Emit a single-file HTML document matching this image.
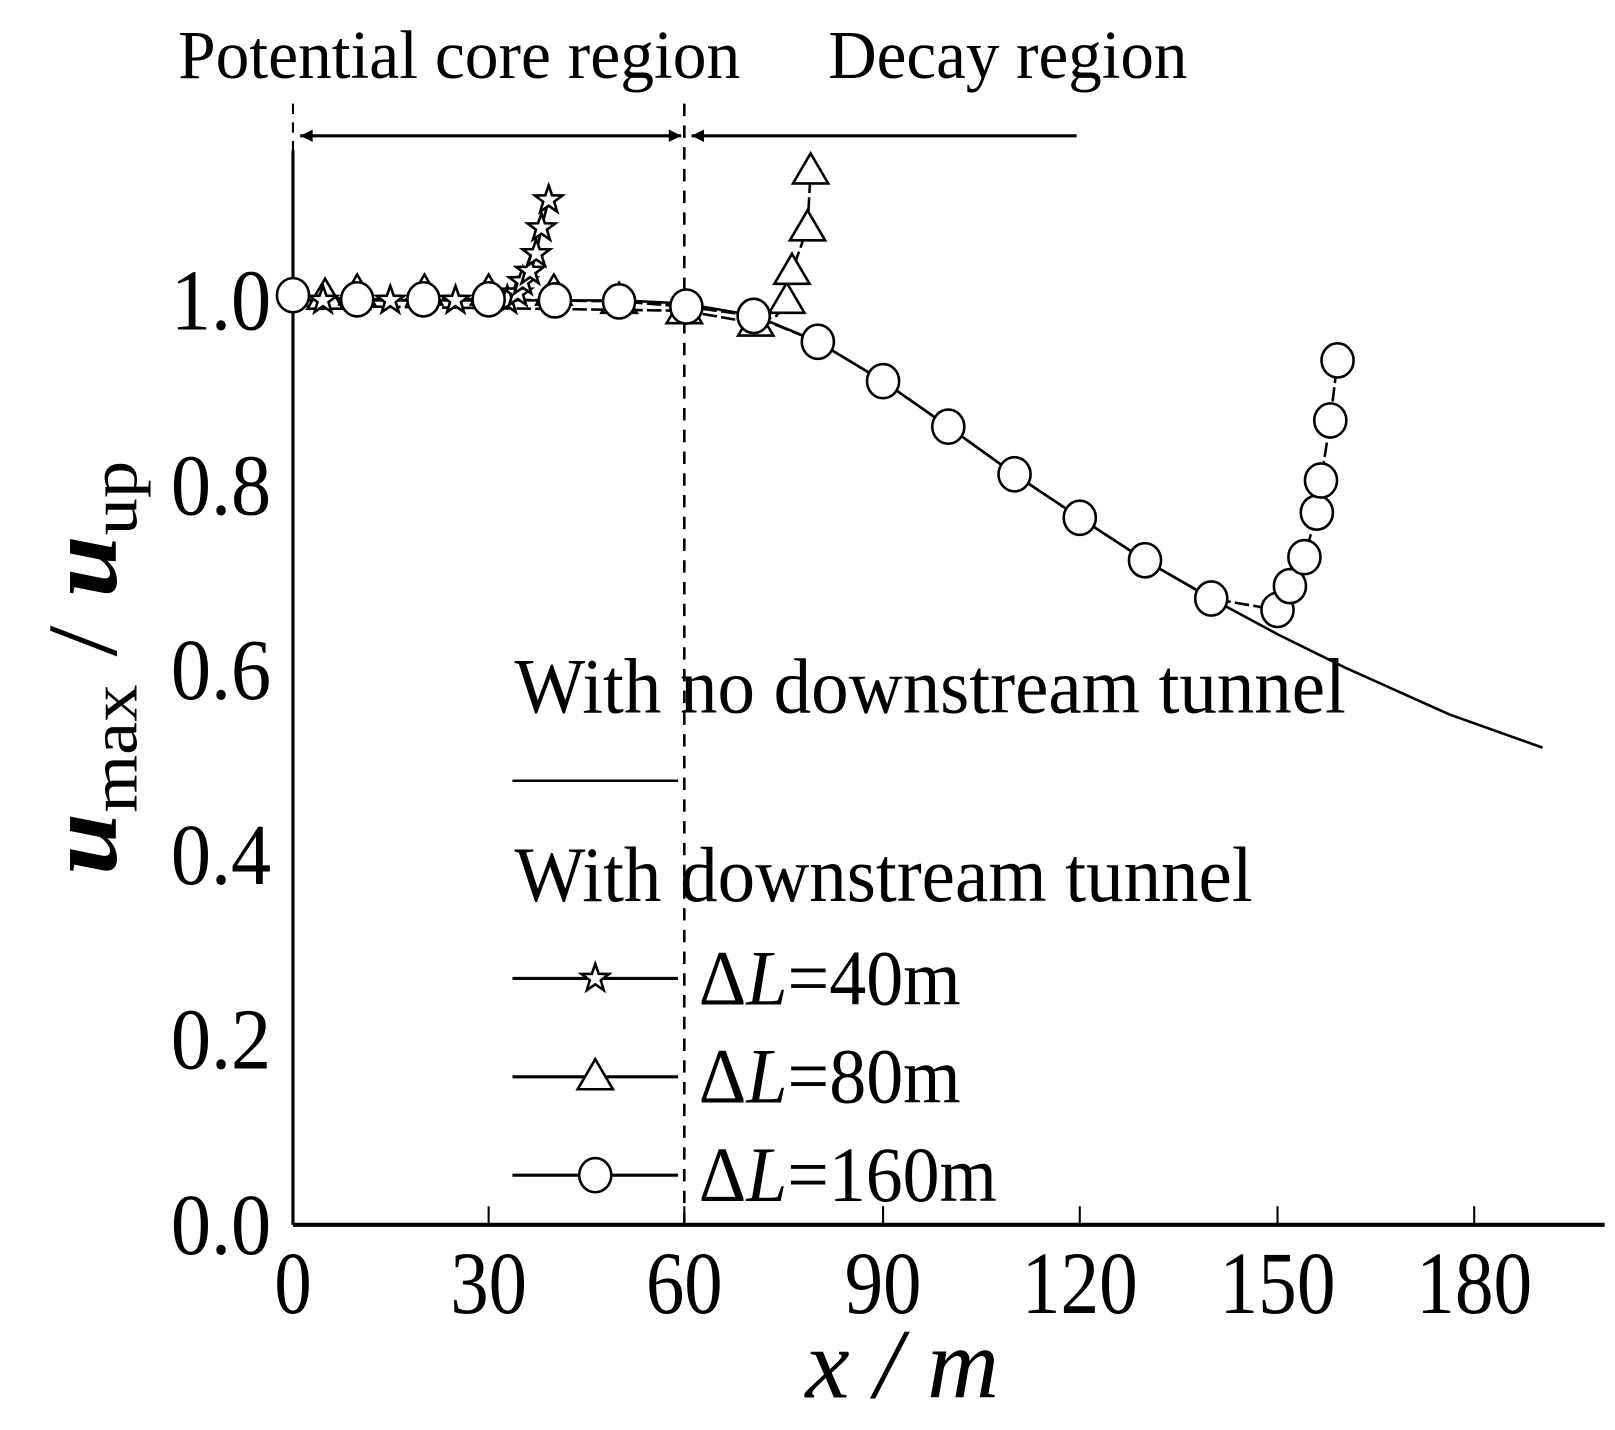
<!DOCTYPE html>
<html><head><style>body{margin:0;background:#fff}svg{display:block}</style></head><body>
<svg width="1615" height="1430" viewBox="0 0 1560 1381" xmlns="http://www.w3.org/2000/svg" font-family="'Liberation Serif',serif">
<defs>
<marker id="ah" viewBox="0 0 10 10" refX="10" refY="5" markerWidth="6" markerHeight="4" orient="auto-start-reverse"><path d="M0,0L10,5L0,10z" fill="#000"/></marker>
<g id="st"><polygon points="0,-14 3.3,-4.5 13.3,-4.3 5.3,1.7 8.2,11.3 0,5.6 -8.2,11.3 -5.3,1.7 -13.3,-4.3 -3.3,-4.5" fill="#fff" stroke="#000" stroke-width="2.5"/></g>
<g id="tr"><polygon points="0,-17 17,12 -17,12" fill="#fff" stroke="#000" stroke-width="2.5"/></g>
<g id="ci"><ellipse rx="15.5" ry="16.5" fill="#fff" stroke="#000" stroke-width="2.5"/></g>
</defs>
<text x="172" y="75" font-size="66" textLength="543" lengthAdjust="spacingAndGlyphs">Potential core region</text>
<text x="800" y="75" font-size="66" textLength="347" lengthAdjust="spacingAndGlyphs">Decay region</text>
<line x1="290" y1="131" x2="658" y2="131" stroke="#000" stroke-width="3" marker-start="url(#ah)" marker-end="url(#ah)"/>
<line x1="1040" y1="131" x2="668" y2="131" stroke="#000" stroke-width="3" marker-end="url(#ah)"/>
<line x1="283" y1="100" x2="283" y2="1183" stroke="#000" stroke-width="2" stroke-dasharray="10,8"/>
<line x1="661" y1="100" x2="661" y2="1183" stroke="#000" stroke-width="2.5" stroke-dasharray="12,9"/>
<line x1="283" y1="145" x2="283" y2="1183" stroke="#000" stroke-width="3"/>
<line x1="283" y1="1183" x2="1550" y2="1183" stroke="#000" stroke-width="4"/>
<g stroke="#000" stroke-width="2">
<line x1="472" y1="1183" x2="472" y2="1165"/><line x1="661" y1="1183" x2="661" y2="1165"/><line x1="853" y1="1183" x2="853" y2="1165"/><line x1="1043" y1="1183" x2="1043" y2="1165"/><line x1="1234" y1="1183" x2="1234" y2="1165"/><line x1="1424" y1="1183" x2="1424" y2="1165"/>
</g>
<g font-size="84" text-anchor="end" lengthAdjust="spacingAndGlyphs">
<text x="262" y="1211" textLength="97" lengthAdjust="spacingAndGlyphs">0.0</text><text x="262" y="1032" textLength="97" lengthAdjust="spacingAndGlyphs">0.2</text><text x="262" y="854" textLength="97" lengthAdjust="spacingAndGlyphs">0.4</text><text x="262" y="675" textLength="97" lengthAdjust="spacingAndGlyphs">0.6</text><text x="262" y="497" textLength="97" lengthAdjust="spacingAndGlyphs">0.8</text><text x="262" y="318" textLength="97" lengthAdjust="spacingAndGlyphs">1.0</text>
</g>
<g font-size="86" text-anchor="middle">
<text x="283" y="1268" textLength="36" lengthAdjust="spacingAndGlyphs">0</text><text x="472" y="1268" textLength="74" lengthAdjust="spacingAndGlyphs">30</text><text x="661" y="1268" textLength="74" lengthAdjust="spacingAndGlyphs">60</text><text x="853" y="1268" textLength="74" lengthAdjust="spacingAndGlyphs">90</text><text x="1043" y="1268" textLength="112" lengthAdjust="spacingAndGlyphs">120</text><text x="1234" y="1268" textLength="112" lengthAdjust="spacingAndGlyphs">150</text><text x="1424" y="1268" textLength="112" lengthAdjust="spacingAndGlyphs">180</text>
</g>
<text x="778" y="1350" font-size="96" font-style="italic" textLength="187" lengthAdjust="spacingAndGlyphs">x / m</text>
<text transform="translate(112,645) rotate(-90)" font-size="96" text-anchor="middle" textLength="400" lengthAdjust="spacingAndGlyphs"><tspan font-style="italic" font-weight="bold">u</tspan><tspan font-size="64" dy="20">max</tspan><tspan dy="-20"> / </tspan><tspan font-style="italic" font-weight="bold">u</tspan><tspan font-size="64" dy="20">up</tspan></text>
<g fill="none" stroke="#000" stroke-width="2.5">
<polyline points="283,290 600,290 661,293 730,305 790,330 853,368 916,412 980,458 1043,500 1106,541 1170,578 1235,613 1300,645 1400,690 1490,722"/>
<polyline points="283,290 490,290 500,285 505,275 512,265 518,245 523,220 530,193"/>
<polyline points="283,295 661,300 730,312 750,305 760,290 765,262 780,220 783,165" stroke-dasharray="14,4"/>
<polyline points="283,285 345,289 472,289 598,291 663,296 728,305 790,330 853,368 916,412 980,458 1043,500 1106,541 1170,578 1234,589 1246,566 1260,538 1272,495 1276,464 1285,406 1292,348" stroke-dasharray="14,4"/>
</g>
<g>
<use href="#tr" x="314" y="286"/><use href="#tr" x="345" y="282"/><use href="#tr" x="410" y="282"/><use href="#tr" x="472" y="282"/><use href="#tr" x="535" y="282"/><use href="#tr" x="598" y="290"/><use href="#tr" x="661" y="300"/><use href="#tr" x="730" y="312"/><use href="#tr" x="760" y="290"/><use href="#tr" x="765" y="262"/><use href="#tr" x="780" y="220"/><use href="#tr" x="783" y="165"/>
<use href="#st" x="312" y="290"/><use href="#st" x="377" y="290"/><use href="#st" x="440" y="290"/><use href="#st" x="490" y="290"/><use href="#st" x="500" y="283"/><use href="#st" x="505" y="272"/><use href="#st" x="512" y="262"/><use href="#st" x="518" y="245"/><use href="#st" x="523" y="220"/><use href="#st" x="530" y="193"/>
<use href="#ci" x="283" y="285"/><use href="#ci" x="345" y="289"/><use href="#ci" x="409" y="289"/><use href="#ci" x="472" y="289"/><use href="#ci" x="536" y="290"/><use href="#ci" x="598" y="291"/><use href="#ci" x="663" y="296"/><use href="#ci" x="728" y="305"/><use href="#ci" x="790" y="330"/><use href="#ci" x="853" y="368"/><use href="#ci" x="916" y="412"/><use href="#ci" x="980" y="458"/><use href="#ci" x="1043" y="500"/><use href="#ci" x="1106" y="541"/><use href="#ci" x="1170" y="578"/><use href="#ci" x="1234" y="589"/><use href="#ci" x="1246" y="566"/><use href="#ci" x="1260" y="538"/><use href="#ci" x="1272" y="495"/><use href="#ci" x="1276" y="464"/><use href="#ci" x="1285" y="406"/><use href="#ci" x="1292" y="348"/>
</g>
<g font-size="76">
<text x="497" y="688" textLength="803" lengthAdjust="spacingAndGlyphs">With no downstream tunnel</text>
<line x1="495" y1="754" x2="655" y2="754" stroke="#000" stroke-width="2.5"/>
<text x="497" y="870" textLength="713" lengthAdjust="spacingAndGlyphs">With downstream tunnel</text>
<line x1="495" y1="945" x2="655" y2="945" stroke="#000" stroke-width="3"/><use href="#st" x="575" y="945"/>
<line x1="495" y1="1040" x2="655" y2="1040" stroke="#000" stroke-width="3"/><use href="#tr" x="575" y="1040"/>
<line x1="495" y1="1135" x2="655" y2="1135" stroke="#000" stroke-width="3"/><use href="#ci" x="575" y="1135"/>
<text x="675" y="970" textLength="253" lengthAdjust="spacingAndGlyphs">Δ<tspan font-style="italic">L</tspan>=40m</text>
<text x="675" y="1065" textLength="253" lengthAdjust="spacingAndGlyphs">Δ<tspan font-style="italic">L</tspan>=80m</text>
<text x="675" y="1160" textLength="288" lengthAdjust="spacingAndGlyphs">Δ<tspan font-style="italic">L</tspan>=160m</text>
</g>
</svg>
</body></html>
